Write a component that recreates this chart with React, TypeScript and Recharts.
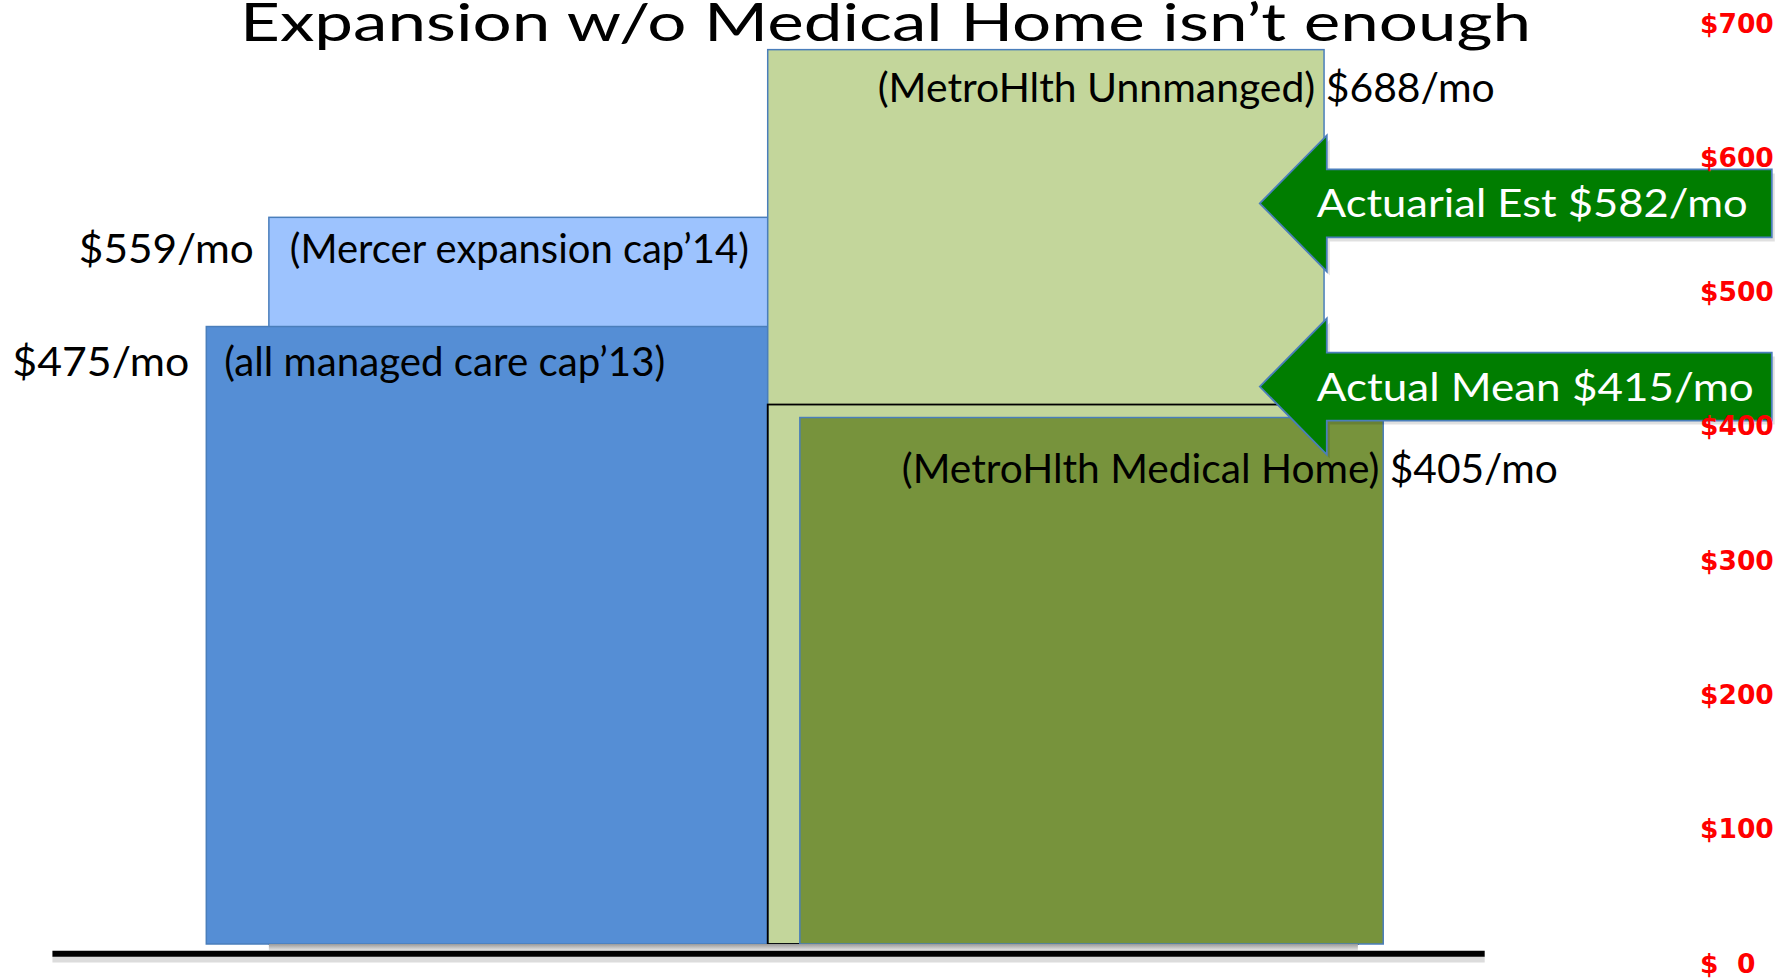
import React from "react";
import { ComposedChart, XAxis, YAxis, ReferenceArea, ReferenceDot, ReferenceLine } from "recharts";

// ---- data ----
const titleText = "Expansion w/o Medical Home isn’t enough";
const capNames = ["(Mercer expansion cap’14)", "(all managed care cap’13)"];
const capValues = [559, 475];
const metroNames = ["(MetroHlth Unnmanged)", "(MetroHlth Medical Home)"];
const metroValues = [688, 405];
const actualMeanValue = 415;
const arrowNames = ["Actuarial Est", "Actual Mean"];
const arrowValues = [582, 415];
const yTicks = [0, 100, 200, 300, 400, 500, 600, 700];
const yTickLabels = ["$\u00a0\u00a00", "$100", "$200", "$300", "$400", "$500", "$600", "$700"];

// ---- layout (slide x units, 0..1000) ----
const capStart = [159, 122];
const capEnd = [454, 454];
const metroStart = [454, 473];
const metroEnd = [783, 818];
const meanBox = [454, 803];
const arrowTipX = 745;
const baseSpan = [31, 878];

// ---- styles ----
const FONT = "Lato, 'Open Sans', sans-serif";
const capFills = ["#9DC3FE", "#558ED5"];
const metroFills = ["#C3D69B", "#77933C"];
const edge = "#4A7EBB";
const LFS = 41;

const capLayout = [
  { valGap: 15, nameGap: 21, dy: 31, valLen: 175, nameLen: 459 },
  { valGap: 17, nameGap: 18, dy: 34.5, valLen: 177, nameLen: 441 },
];
const metroLayout = [
  { nameGap: 110, dy: 37.4, len: 617 },
  { nameGap: 102, dy: 50.5, len: 656 },
];
const arrowLen = [431, 437];
const arrowNudge = [16, -18];

const capShape = (i: number) => (p: any) => {
  const cy = p.y + capLayout[i].dy;
  return (
    <g>
      <rect x={p.x} y={p.y} width={p.width} height={p.height} fill={capFills[i]} stroke={edge} strokeWidth={1.5} />
      <text x={p.x - capLayout[i].valGap} y={cy + LFS * 0.36} textAnchor="end" fontFamily={FONT} fontSize={LFS} fill="#000"
        textLength={capLayout[i].valLen} lengthAdjust="spacingAndGlyphs">{`$${capValues[i]}/mo`}</text>
      <text x={p.x + capLayout[i].nameGap} y={cy + LFS * 0.36} fontFamily={FONT} fontSize={LFS} fill="#000"
        textLength={capLayout[i].nameLen} lengthAdjust="spacingAndGlyphs">{capNames[i]}</text>
    </g>
  );
};

const metroShape = (i: number) => (p: any) => {
  const cy = p.y + metroLayout[i].dy;
  return (
    <g>
      <rect x={p.x} y={p.y} width={p.width} height={p.height} fill={metroFills[i]} stroke={edge} strokeWidth={1.5} />
      <text x={p.x + metroLayout[i].nameGap} y={cy + LFS * 0.36} fontFamily={FONT} fontSize={LFS} fill="#000"
        textLength={metroLayout[i].len} lengthAdjust="spacingAndGlyphs">{`${metroNames[i]} $${metroValues[i]}/mo`}</text>
    </g>
  );
};

const meanShape = (p: any) => (
  <rect x={p.x} y={p.y} width={p.width} height={p.height} fill="none" stroke="#000" strokeWidth={1.8} />
);

const shadowShape = (p: any) => (
  <g>
    <defs>
      <linearGradient id="barShadow" x1="0" y1="0" x2="0" y2="1">
        <stop offset="0" stopColor="#9a9a9a" />
        <stop offset="1" stopColor="#e6e6e6" />
      </linearGradient>
    </defs>
    <rect x={p.x} y={p.y} width={p.width} height={p.height} fill="url(#barShadow)" />
  </g>
);

const arrowShape = (i: number) => (p: any) => {
  const tx = p.cx;
  const cy = p.cy + arrowNudge[i];
  const hb = tx + 67;
  const right = tx + 512;
  const pts = [
    [tx, cy], [hb, cy - 68], [hb, cy - 34], [right, cy - 34], [right, cy + 34], [hb, cy + 34], [hb, cy + 68],
  ].map((q) => q.join(",")).join(" ");
  const shadowPts = [
    [tx + 3, cy + 4], [hb + 3, cy - 64], [hb + 3, cy - 30], [right + 3, cy - 30], [right + 3, cy + 38], [hb + 3, cy + 38], [hb + 3, cy + 72],
  ].map((q) => q.join(",")).join(" ");
  return (
    <g>
      <polygon points={shadowPts} fill="#000" fillOpacity={0.12} />
      <polygon points={pts} fill="#007D00" stroke={edge} strokeWidth={1.8} />
      <text x={tx + 57} y={cy + 39 * 0.36} fontFamily={FONT} fontSize={39} fill="#fff"
        textLength={arrowLen[i]} lengthAdjust="spacingAndGlyphs">{`${arrowNames[i]} $${arrowValues[i]}/mo`}</text>
    </g>
  );
};

const RightTick = (props: any) => {
  const { x, y, payload } = props;
  const idx = yTicks.indexOf(payload.value);
  return (
    <text x={x} y={y + 9.6} fill="#FF0000" fontFamily="'DejaVu Sans', Verdana, sans-serif" fontWeight="bold" fontSize={26.5} textAnchor="start">
      {yTickLabels[idx]}
    </text>
  );
};

export default function App() {
  const data = yTicks.map((v) => ({ v }));
  return (
    <div style={{ position: "absolute", left: 0, top: 0, width: 1791, height: 979, background: "#fff" }}>
      <ComposedChart width={1791} height={979} data={data} margin={{ top: 10, right: 0, bottom: 9, left: 0 }}>
        <XAxis xAxisId="x" type="number" dataKey="v" domain={[0, 1000]} allowDataOverflow hide />
        <YAxis yAxisId="bars" type="number" domain={[-20, 718.5]} allowDataOverflow hide />
        <YAxis
          yAxisId="ticks"
          orientation="right"
          type="number"
          width={100}
          domain={[-5.2, 709.7]}
          allowDataOverflow
          ticks={yTicks}
          interval={0}
          axisLine={false}
          tickLine={false}
          tickMargin={3}
          tick={<RightTick />}
        />
        <ReferenceArea xAxisId="x" yAxisId="bars" x1={capStart[0]} x2={capEnd[0]} y1={0} y2={capValues[0]} fillOpacity={1} ifOverflow="visible" shape={capShape(0)} />
        <ReferenceArea xAxisId="x" yAxisId="bars" x1={capStart[1]} x2={capEnd[1]} y1={0} y2={capValues[1]} fillOpacity={1} ifOverflow="visible" shape={capShape(1)} />
        <ReferenceArea xAxisId="x" yAxisId="bars" x1={metroStart[0]} x2={metroEnd[0]} y1={0} y2={metroValues[0]} fillOpacity={1} ifOverflow="visible" shape={metroShape(0)} />
        <ReferenceArea xAxisId="x" yAxisId="bars" x1={meanBox[0]} x2={meanBox[1]} y1={0} y2={actualMeanValue} ifOverflow="visible" shape={meanShape} />
        <ReferenceArea xAxisId="x" yAxisId="bars" x1={metroStart[1]} x2={metroEnd[1]} y1={0} y2={metroValues[1]} fillOpacity={1} ifOverflow="visible" shape={metroShape(1)} />
        <ReferenceArea xAxisId="x" yAxisId="bars" x1={capStart[0]} x2={meanBox[1]} y1={-5} y2={0} ifOverflow="visible" shape={shadowShape} />
        <ReferenceLine xAxisId="x" yAxisId="bars" ifOverflow="visible" stroke="#dcdcdc" strokeWidth={6}
          segment={[{ x: baseSpan[0], y: -12 }, { x: baseSpan[1], y: -12 }]} />
        <ReferenceLine xAxisId="x" yAxisId="bars" ifOverflow="visible" stroke="#000" strokeWidth={6}
          segment={[{ x: baseSpan[0], y: -7.5 }, { x: baseSpan[1], y: -7.5 }]} />
        <ReferenceDot xAxisId="x" yAxisId="bars" x={arrowTipX} y={arrowValues[0]} ifOverflow="visible" shape={arrowShape(0)} />
        <ReferenceDot xAxisId="x" yAxisId="bars" x={arrowTipX} y={arrowValues[1]} ifOverflow="visible" shape={arrowShape(1)} />
      </ComposedChart>
      <svg width={1791} height={70} style={{ position: "absolute", left: 0, top: 0, pointerEvents: "none" }}>
        <text x={240} y={41} fontFamily={FONT} fontSize={53} fill="#000" textLength={1291} lengthAdjust="spacingAndGlyphs">
          {titleText}
        </text>
      </svg>
    </div>
  );
}
